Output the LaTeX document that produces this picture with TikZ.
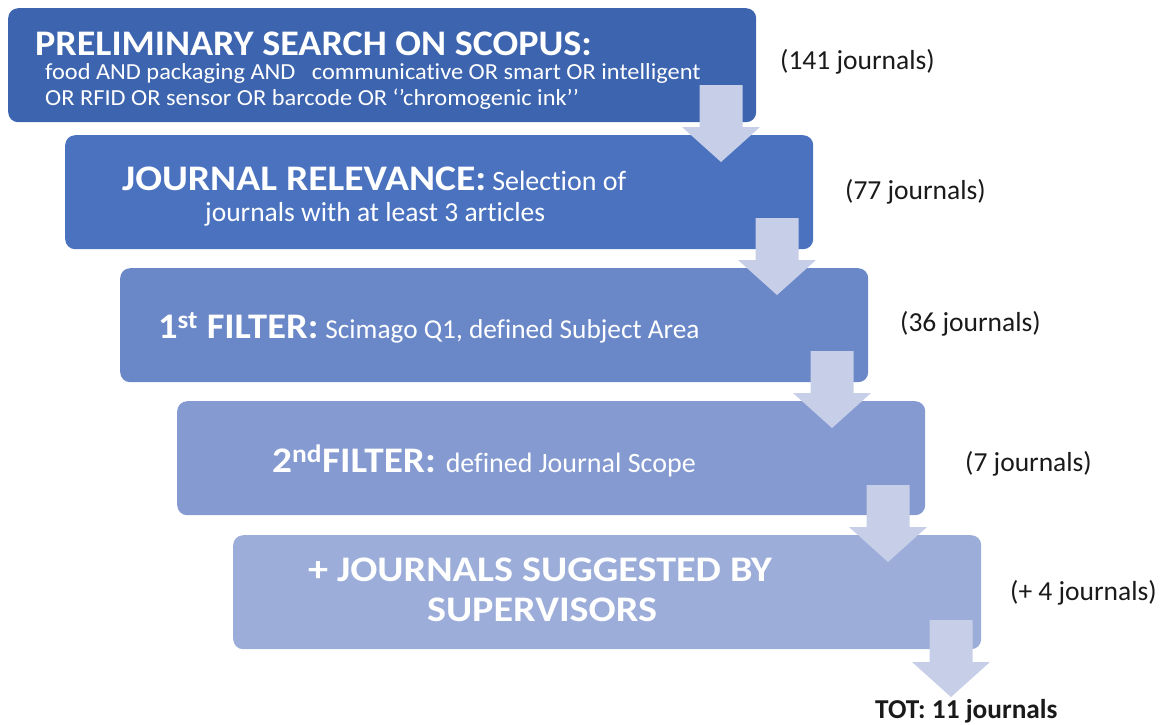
\documentclass[tikz,border=0pt]{standalone}
\usepackage{fontspec}
\setmainfont{Carlito}[Ligatures=NoCommon]
\definecolor{stageA}{HTML}{3D64AE}
\definecolor{stageB}{HTML}{4A72BF}
\definecolor{stageC}{HTML}{6A88C8}
\definecolor{stageD}{HTML}{849AD1}
\definecolor{stageE}{HTML}{9CADDA}
\definecolor{flowc}{HTML}{C7CEE8}
\definecolor{countc}{HTML}{1A1A1A}
% horizontally widened text
\newcommand{\widen}[2]{\scalebox{#1}[1]{#2}}
\newcommand{\fs}[1]{\fontsize{#1}{#1}\selectfont}
\begin{document}
\begin{tikzpicture}[x=1pt,y=-1pt,
  stagebox/.style={rounded corners=10pt, minimum width=748pt, minimum height=114pt,
    anchor=north west, inner sep=0pt, draw=none},
  txt/.style={text=white, inner sep=0pt, anchor=base west},
  count/.style={font=\fs{27.5}, text=countc, inner sep=0pt, anchor=base west},
  downflow/.pic={\fill[flowc] (-21.5,0) -- (21.5,0) -- (21.5,42) -- (39,42) -- (0,77)
      -- (-39,42) -- (-21.5,42) -- cycle;}
]
\useasboundingbox (0,0) rectangle (1168,724);

% stages of the selection funnel
\node[stagebox, fill=stageA] (s1) at (8,8) {};
\node[stagebox, fill=stageB] (s2) at (65,135) {};
\node[stagebox, fill=stageC] (s3) at (120,268) {};
\node[stagebox, fill=stageD] (s4) at (177,401) {};
\node[stagebox, fill=stageE] (s5) at (233,535) {};

% arrows between stages
\pic at (721,85) {downflow};
\pic at (777,218) {downflow};
\pic at (832,351) {downflow};
\pic at (888,485) {downflow};
\pic at (951,620) {downflow};

% stage texts
\node[txt] (t1) at (35,55) {\widen{1.057}{\fs{36}\bfseries PRELIMINARY SEARCH ON SCOPUS:}};
\node[txt] (t1a) at (45,79) {\widen{1.06}{\fs{23}food AND packaging AND \ \ communicative OR smart OR intelligent}};
\node[txt] (t1b) at (45,105) {\widen{1.06}{\fs{23}OR RFID OR sensor OR barcode OR ‘’chromogenic ink’’}};

\node[txt] (t2) at (122,190)
  {{\widen{1.1}{\fs{36}\bfseries JOURNAL RELEVANCE:}}\hspace{6pt}{\fs{28}Selection of}};
\node[txt] (t2a) at (205,221)
  {\fs{27.5}journals with at least 3 articles};

\node[txt] (t3) at (158,338)
  {{\widen{1.07}{\fs{36}\bfseries 1\textsuperscript{st} FILTER:}}\hspace{7pt}{\fs{27.3}Scimago Q1, defined Subject Area}};

\node[txt] (t4) at (272,472)
  {{\widen{1.09}{\fs{36}\bfseries 2\textsuperscript{nd}FILTER:}}\hspace{10pt}{\fs{28}defined Journal Scope}};

\node[txt, anchor=base] (t5) at (540,581)
  {\widen{1.115}{\fs{36}\bfseries + JOURNALS SUGGESTED BY}};
\node[txt, anchor=base] (t5a) at (542,621)
  {\widen{1.115}{\fs{36}\bfseries SUPERVISORS}};

% journal counts
\node[count] (c1) at (780,69) {(141 journals)};
\node[count] (c2) at (845,199) {(77 journals)};
\node[count] (c3) at (900,331) {(36 journals)};
\node[count] (c4) at (965,471) {(7 journals)};
\node[count] (c5) at (1010,600) {(+ 4 journals)};
\node[count, font=\fs{27.3}\bfseries] (c6) at (875,718) {TOT: 11 journals};
\end{tikzpicture}
\end{document}
